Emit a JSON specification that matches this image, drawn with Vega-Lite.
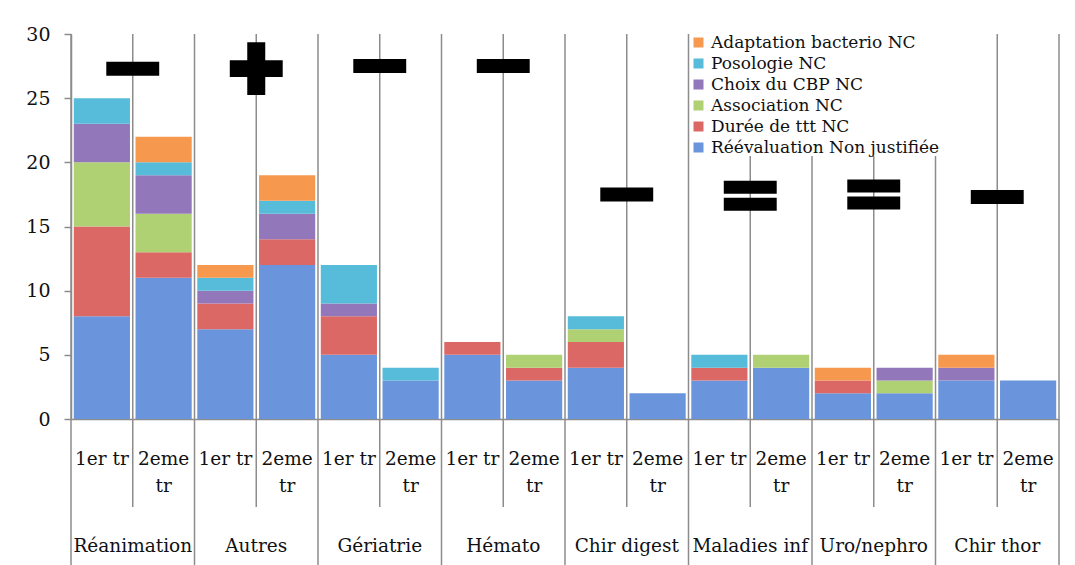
{
  "$schema": "https://vega.github.io/schema/vega-lite/v6.json",
  "width": 988,
  "height": 385,
  "autosize": {"type": "pad"},
  "padding": {"left": 25, "top": 25, "right": 17, "bottom": 0},
  "background": "white",
  "config": {"view": {"stroke": null}},
  "data": {
    "values": [
      {"bar": "Réanimation 1er tr", "series": "Réévaluation Non justifiée", "ord": 1, "value": 8},
      {"bar": "Réanimation 1er tr", "series": "Durée de ttt NC", "ord": 2, "value": 7},
      {"bar": "Réanimation 1er tr", "series": "Association NC", "ord": 3, "value": 5},
      {"bar": "Réanimation 1er tr", "series": "Choix du CBP NC", "ord": 4, "value": 3},
      {"bar": "Réanimation 1er tr", "series": " Posologie  NC", "ord": 5, "value": 2},
      {"bar": "Réanimation 2eme tr", "series": "Réévaluation Non justifiée", "ord": 1, "value": 11},
      {"bar": "Réanimation 2eme tr", "series": "Durée de ttt NC", "ord": 2, "value": 2},
      {"bar": "Réanimation 2eme tr", "series": "Association NC", "ord": 3, "value": 3},
      {"bar": "Réanimation 2eme tr", "series": "Choix du CBP NC", "ord": 4, "value": 3},
      {"bar": "Réanimation 2eme tr", "series": " Posologie  NC", "ord": 5, "value": 1},
      {"bar": "Réanimation 2eme tr", "series": "Adaptation bacterio NC", "ord": 6, "value": 2},
      {"bar": "Autres 1er tr", "series": "Réévaluation Non justifiée", "ord": 1, "value": 7},
      {"bar": "Autres 1er tr", "series": "Durée de ttt NC", "ord": 2, "value": 2},
      {"bar": "Autres 1er tr", "series": "Choix du CBP NC", "ord": 4, "value": 1},
      {"bar": "Autres 1er tr", "series": " Posologie  NC", "ord": 5, "value": 1},
      {"bar": "Autres 1er tr", "series": "Adaptation bacterio NC", "ord": 6, "value": 1},
      {"bar": "Autres 2eme tr", "series": "Réévaluation Non justifiée", "ord": 1, "value": 12},
      {"bar": "Autres 2eme tr", "series": "Durée de ttt NC", "ord": 2, "value": 2},
      {"bar": "Autres 2eme tr", "series": "Choix du CBP NC", "ord": 4, "value": 2},
      {"bar": "Autres 2eme tr", "series": " Posologie  NC", "ord": 5, "value": 1},
      {"bar": "Autres 2eme tr", "series": "Adaptation bacterio NC", "ord": 6, "value": 2},
      {"bar": "Gériatrie 1er tr", "series": "Réévaluation Non justifiée", "ord": 1, "value": 5},
      {"bar": "Gériatrie 1er tr", "series": "Durée de ttt NC", "ord": 2, "value": 3},
      {"bar": "Gériatrie 1er tr", "series": "Choix du CBP NC", "ord": 4, "value": 1},
      {"bar": "Gériatrie 1er tr", "series": " Posologie  NC", "ord": 5, "value": 3},
      {"bar": "Gériatrie 2eme tr", "series": "Réévaluation Non justifiée", "ord": 1, "value": 3},
      {"bar": "Gériatrie 2eme tr", "series": " Posologie  NC", "ord": 5, "value": 1},
      {"bar": "Hémato 1er tr", "series": "Réévaluation Non justifiée", "ord": 1, "value": 5},
      {"bar": "Hémato 1er tr", "series": "Durée de ttt NC", "ord": 2, "value": 1},
      {"bar": "Hémato 2eme tr", "series": "Réévaluation Non justifiée", "ord": 1, "value": 3},
      {"bar": "Hémato 2eme tr", "series": "Durée de ttt NC", "ord": 2, "value": 1},
      {"bar": "Hémato 2eme tr", "series": "Association NC", "ord": 3, "value": 1},
      {"bar": "Chir digest 1er tr", "series": "Réévaluation Non justifiée", "ord": 1, "value": 4},
      {"bar": "Chir digest 1er tr", "series": "Durée de ttt NC", "ord": 2, "value": 2},
      {"bar": "Chir digest 1er tr", "series": "Association NC", "ord": 3, "value": 1},
      {"bar": "Chir digest 1er tr", "series": " Posologie  NC", "ord": 5, "value": 1},
      {"bar": "Chir digest 2eme tr", "series": "Réévaluation Non justifiée", "ord": 1, "value": 2},
      {"bar": "Maladies inf 1er tr", "series": "Réévaluation Non justifiée", "ord": 1, "value": 3},
      {"bar": "Maladies inf 1er tr", "series": "Durée de ttt NC", "ord": 2, "value": 1},
      {"bar": "Maladies inf 1er tr", "series": " Posologie  NC", "ord": 5, "value": 1},
      {"bar": "Maladies inf 2eme tr", "series": "Réévaluation Non justifiée", "ord": 1, "value": 4},
      {"bar": "Maladies inf 2eme tr", "series": "Association NC", "ord": 3, "value": 1},
      {"bar": "Uro/nephro 1er tr", "series": "Réévaluation Non justifiée", "ord": 1, "value": 2},
      {"bar": "Uro/nephro 1er tr", "series": "Durée de ttt NC", "ord": 2, "value": 1},
      {"bar": "Uro/nephro 1er tr", "series": "Adaptation bacterio NC", "ord": 6, "value": 1},
      {"bar": "Uro/nephro 2eme tr", "series": "Réévaluation Non justifiée", "ord": 1, "value": 2},
      {"bar": "Uro/nephro 2eme tr", "series": "Association NC", "ord": 3, "value": 1},
      {"bar": "Uro/nephro 2eme tr", "series": "Choix du CBP NC", "ord": 4, "value": 1},
      {"bar": "Chir thor 1er tr", "series": "Réévaluation Non justifiée", "ord": 1, "value": 3},
      {"bar": "Chir thor 1er tr", "series": "Choix du CBP NC", "ord": 4, "value": 1},
      {"bar": "Chir thor 1er tr", "series": "Adaptation bacterio NC", "ord": 6, "value": 1},
      {"bar": "Chir thor 2eme tr", "series": "Réévaluation Non justifiée", "ord": 1, "value": 3}
    ]
  },
  "layer": [
    {
      "mark": {"type": "bar", "width": {"band": 0.91}},
      "encoding": {
        "x": {
          "field": "bar", "type": "nominal", "sort": null,
          "scale": {
            "domain": ["Réanimation 1er tr", "Réanimation 2eme tr", "Autres 1er tr", "Autres 2eme tr", "Gériatrie 1er tr", "Gériatrie 2eme tr", "Hémato 1er tr", "Hémato 2eme tr", "Chir digest 1er tr", "Chir digest 2eme tr", "Maladies inf 1er tr", "Maladies inf 2eme tr", "Uro/nephro 1er tr", "Uro/nephro 2eme tr", "Chir thor 1er tr", "Chir thor 2eme tr"],
            "paddingInner": 0, "paddingOuter": 0
          },
          "axis": {
            "title": null, "ticks": false, "grid": false,
            "domainColor": "#8c8c8c", "domainWidth": 1.5, "labelAngle": 0, "labelAlign": "center", "labelFont": "DejaVu Serif",
            "labelFontSize": 18.5, "labelColor": "#111111", "labelBaseline": "alphabetic", "labelPadding": 45,
            "labelLineHeight": 27, "labelOverlap": false, "labelLimit": 400,
            "labelExpr": "indexof(datum.value, '2eme') >= 0 ? ['2eme', 'tr'] : '1er tr'"
          }
        },
        "y": {
          "field": "value", "type": "quantitative", "stack": "zero",
          "scale": {"domain": [0, 30], "nice": false},
          "axis": {
            "title": null, "values": [0, 5, 10, 15, 20, 25, 30], "tickSize": 7, "tickColor": "#8c8c8c", "tickWidth": 1.5,
            "domainColor": "#8c8c8c", "domainWidth": 1.5, "labelFont": "DejaVu Serif", "labelFontSize": 19,
            "labelPadding": 14, "labelColor": "#111111", "grid": false
          }
        },
        "color": {
          "field": "series", "type": "nominal",
          "scale": {
            "domain": ["Adaptation bacterio NC", " Posologie  NC", "Choix du CBP NC", "Association NC", "Durée de ttt NC", "Réévaluation Non justifiée"],
            "range": ["#f6994f", "#56bcd9", "#9377bb", "#b0d074", "#dc6866", "#6a95dc"]
          },
          "legend": {
            "orient": "none", "legendX": 619, "legendY": 0, "fillColor": "white",
            "title": null, "symbolType": "square", "symbolSize": 100,
            "labelFont": "DejaVu Serif", "labelFontSize": 17, "labelColor": "#111111",
            "rowPadding": 3, "labelLimit": 400
          }
        },
        "order": {"field": "ord", "type": "quantitative"}
      }
    },
    {
      "transform": [{"filter": "datum.ord == 1 && indexof(datum.bar, '1er') >= 0"}],
      "mark": {"type": "rule", "color": "#8c8c8c", "strokeWidth": 1.5},
      "encoding": {
        "x": {"field": "bar", "type": "nominal", "sort": null, "bandPosition": 0},
        "y": {"datum": 30, "type": "quantitative"},
        "y2": {"datum": -11.4}
      }
    },
    {
      "transform": [{"filter": "datum.ord == 1 && datum.bar == 'Chir thor 2eme tr'"}],
      "mark": {"type": "rule", "color": "#8c8c8c", "strokeWidth": 1.5},
      "encoding": {
        "x": {"field": "bar", "type": "nominal", "sort": null, "bandPosition": 1},
        "y": {"datum": 30, "type": "quantitative"},
        "y2": {"datum": -11.4}
      }
    },
    {
      "transform": [{"filter": "datum.ord == 1 && indexof(datum.bar, '2eme') >= 0"}],
      "mark": {"type": "rule", "color": "#8c8c8c", "strokeWidth": 1.5},
      "encoding": {
        "x": {"field": "bar", "type": "nominal", "sort": null, "bandPosition": 0},
        "y": {"datum": 30, "type": "quantitative"},
        "y2": {"datum": -6.86}
      }
    },
    {
      "data": {
        "values": [
          {"bar": "Réanimation 1er tr", "label": "Réanimation"},
          {"bar": "Autres 1er tr", "label": "Autres"},
          {"bar": "Gériatrie 1er tr", "label": "Gériatrie"},
          {"bar": "Hémato 1er tr", "label": "Hémato"},
          {"bar": "Chir digest 1er tr", "label": "Chir digest"},
          {"bar": "Maladies inf 1er tr", "label": "Maladies inf"},
          {"bar": "Uro/nephro 1er tr", "label": "Uro/nephro"},
          {"bar": "Chir thor 1er tr", "label": "Chir thor"}
        ]
      },
      "mark": {"type": "text", "font": "DejaVu Serif", "fontSize": 18.5, "color": "#111111", "align": "center", "baseline": "alphabetic"},
      "encoding": {
        "x": {"field": "bar", "type": "nominal", "sort": null, "bandPosition": 1},
        "y": {"datum": -10.35, "type": "quantitative"},
        "text": {"field": "label", "type": "nominal"}
      }
    },
    {
      "data": {
        "values": [
          {"bar": "Réanimation 1er tr", "sign": "minus", "level": 27.3},
          {"bar": "Autres 1er tr", "sign": "plus", "level": 27.3},
          {"bar": "Gériatrie 1er tr", "sign": "minus", "level": 27.5},
          {"bar": "Hémato 1er tr", "sign": "minus", "level": 27.5},
          {"bar": "Chir digest 1er tr", "sign": "minus", "level": 17.5},
          {"bar": "Maladies inf 1er tr", "sign": "equal", "level": 17.4},
          {"bar": "Uro/nephro 1er tr", "sign": "equal", "level": 17.5},
          {"bar": "Chir thor 1er tr", "sign": "minus", "level": 17.3}
        ]
      },
      "mark": {"type": "point", "filled": true, "color": "black", "opacity": 1, "size": 2800},
      "encoding": {
        "x": {"field": "bar", "type": "nominal", "sort": null, "bandPosition": 1},
        "y": {"field": "level", "type": "quantitative"},
        "shape": {
          "field": "sign", "type": "nominal",
          "scale": {
            "domain": ["minus", "plus", "equal"],
            "range": [
              "M-1,-0.264H1V0.264H-1Z",
              "M-1,-0.32H-0.34V-1H0.34V-0.32H1V0.32H0.34V1H-0.34V0.32H-1Z",
              "M-1,-0.566H1V-0.075H-1Z M-1,0.075H1V0.566H-1Z"
            ]
          },
          "legend": null
        }
      }
    }
  ]
}
